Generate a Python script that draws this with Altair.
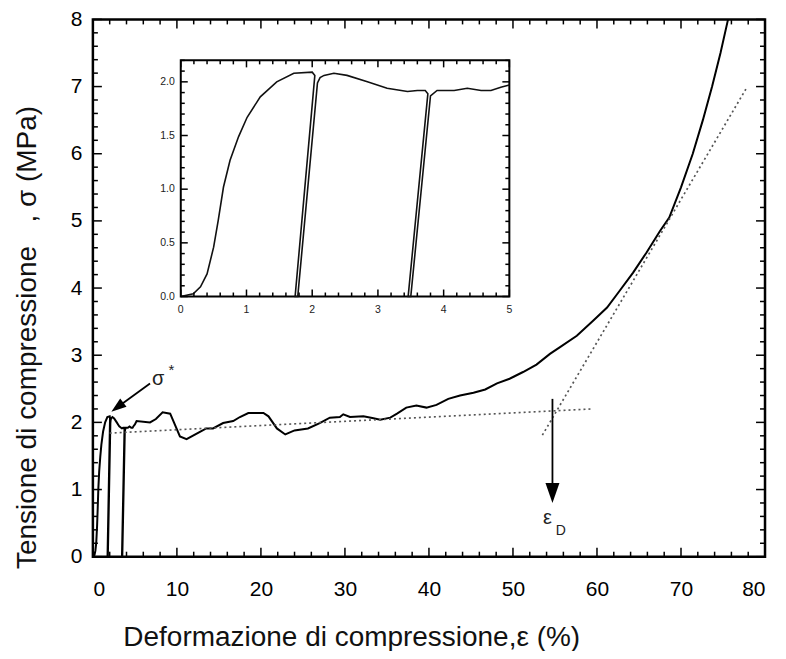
import altair as alt
import pandas as pd

# ---------------- data ----------------
# initial region (shown in inset and at the start of the main curve): strain %, stress MPa
inset_strain = [0, 0.19, 0.30, 0.40, 0.50, 0.57, 0.65, 0.75, 0.88, 1.01, 1.21, 1.46, 1.72, 2.00, 2.04,
                1.74, 1.78, 2.08, 2.12, 2.18, 2.33, 2.53, 2.84, 3.14, 3.45, 3.60, 3.72, 3.76,
                3.46, 3.50, 3.80, 3.90, 4.16, 4.36, 4.57, 4.72, 4.87, 5.00]
inset_stress = [0, 0.025, 0.09, 0.21, 0.46, 0.71, 1.02, 1.27, 1.49, 1.67, 1.86, 2.00, 2.08, 2.09, 2.06,
                0, 0, 1.99, 2.04, 2.06, 2.08, 2.06, 2.00, 1.94, 1.91, 1.92, 1.92, 1.89,
                0, 0, 1.87, 1.92, 1.92, 1.94, 1.92, 1.92, 1.95, 1.97]

# rest of the main curve
main_strain_rest = [5.2, 6.8, 7.5, 8.3, 9.2, 10.36, 11.15, 12.74, 13.5, 14.3, 15.5, 16.7, 17.5, 18.5, 20.3,
                    20.9, 21.9, 22.9, 24.0, 25.6, 27.0, 28.2, 29.4, 29.8, 30.6, 32.2, 33.4, 34.2, 35.4, 36.2,
                    37.3, 38.5, 39.7, 40.9, 42.3, 43.7, 45.3, 46.7, 48.1, 49.6, 51.2, 52.8, 54.4, 55.6, 57.6,
                    59.6, 61.2, 62.7, 64.3, 65.9, 67.5, 68.6, 70.0, 71.4, 72.6, 73.7, 74.7, 75.6]
main_stress_rest = [2.02, 2.00, 2.05, 2.15, 2.13, 1.79, 1.75, 1.86, 1.91, 1.91, 1.99, 2.02, 2.08, 2.14, 2.14,
                    2.09, 1.91, 1.82, 1.88, 1.91, 1.99, 2.07, 2.08, 2.12, 2.08, 2.09, 2.06, 2.04, 2.07, 2.13,
                    2.22, 2.25, 2.22, 2.26, 2.35, 2.40, 2.44, 2.49, 2.58, 2.65, 2.75, 2.86, 3.02, 3.12, 3.29,
                    3.52, 3.71, 3.96, 4.23, 4.53, 4.85, 5.05, 5.50, 6.00, 6.50, 7.00, 7.50, 8.00]

# dotted fit lines
fit_x = [2.0, 59.4, 53.5, 77.9]
fit_y = [1.84, 2.20, 1.81, 7.00]
fit_g = ["plateau", "plateau", "densification", "densification"]

# arrows
arrow_x = [6.8, 54.7]
arrow_y = [2.58, 2.35]
arrow_x2 = [3.2, 54.7]
arrow_y2 = [2.25, 1.0]
head_x = [2.2, 54.7]
head_y = [2.16, 0.80]
head_angle = [233, 180]
head_size = [225, 400]

# annotations
ann_x = [7.76, 9.35, 54.1, 55.7]
ann_y = [2.64, 2.78, 0.575, 0.38]
ann_text = ["σ", "*", "ε", "D"]
ann_size = [20, 15, 20, 14]

# axes
X_DOMAIN = [0, 80]
Y_DOMAIN = [0, 8]
x_labels = [0, 10, 20, 30, 40, 50, 60, 70, 80]
y_labels = [0, 1, 2, 3, 4, 5, 6, 7, 8]
x_minor = [v for v in range(0, 81, 2) if v % 10 != 0]
y_minor = [round(v * 0.2, 1) for v in range(0, 41) if v % 5 != 0]

INSET_X_DOMAIN = [0, 5]
INSET_Y_DOMAIN = [0, 2.2]
inset_x_labels = [0, 1, 2, 3, 4, 5]
inset_y_labels = [0.0, 0.5, 1.0, 1.5, 2.0]
inset_x_minor = [round(v * 0.2, 1) for v in range(0, 26) if v % 5 != 0]
inset_y_minor = [round(v * 0.1, 1) for v in range(0, 23) if v % 5 != 0]

# ---------------- layout ----------------
W, H = 673, 538
FONT = "Liberation Sans"
ARROW_PATH = "M0,0L0.7,2L-0.7,2Z"
# where the inset box sits, expressed in the main chart's axis units
IX0, IX1 = 10.46, 49.57
IY0, IY1 = 3.874, 7.39
SX = (IX1 - IX0) / (INSET_X_DOMAIN[1] - INSET_X_DOMAIN[0])
SY = (IY1 - IY0) / (INSET_Y_DOMAIN[1] - INSET_Y_DOMAIN[0])


def to_main_x(f):
    return f"{IX0} + (datum['{f}'] - {INSET_X_DOMAIN[0]}) * {SX}"


def to_main_y(f):
    return f"{IY0} + (datum['{f}'] - {INSET_Y_DOMAIN[0]}) * {SY}"


def xs():
    return alt.Scale(domain=X_DOMAIN, nice=False, zero=False)


def ys():
    return alt.Scale(domain=Y_DOMAIN, nice=False, zero=False)


# the same axis definitions are given to every layer so the shared axes merge cleanly
def AX():
    return alt.Axis(values=x_labels, title="Deformazione di compressione,ε (%)",
                    grid=False, ticks=False, tickSize=0, domain=False,
                    labelFont=FONT, labelFontSize=21, labelColor="black", labelPadding=22,
                    titleFont=FONT, titleFontSize=28, titleFontWeight="normal", titleColor="#111",
                    titleAlign="left", titleBaseline="alphabetic", titleX=30, titleY=89,
                    titleAnchor="start")


def AY():
    return alt.Axis(values=y_labels,
                    title="Tensione di compressione\u00a0\u00a0\u00a0, σ (MPa)",
                    grid=False, ticks=False, tickSize=0, domain=False,
                    labelFont=FONT, labelFontSize=21, labelColor="black", labelPadding=11,
                    titleFont=FONT, titleFontSize=28, titleFontWeight="normal", titleColor="#111",
                    titleAngle=270, titleAlign="center", titleBaseline="alphabetic",
                    titleX=-57, titleY=318)


def X(f):
    return alt.X(f, scale=xs(), axis=AX())


def Y(f):
    return alt.Y(f, scale=ys(), axis=AY())


def hticks(vals, at, length, inset=False):
    df = pd.DataFrame({"v": vals, "at": [at] * len(vals)})
    base = alt.Chart(df)
    xf = "v"
    if inset:
        base = base.transform_calculate(mx=to_main_x("v"))
        xf = "mx"
    return base.mark_rule(color="black", strokeWidth=1.5, y2Offset=length).encode(
        x=X(f"{xf}:Q"), y=Y("at:Q"), y2=alt.Y2("at:Q"),
    )


def vticks(vals, at, length, inset=False):
    df = pd.DataFrame({"v": vals, "at": [at] * len(vals)})
    base = alt.Chart(df)
    yf = "v"
    if inset:
        base = base.transform_calculate(my=to_main_y("v"))
        yf = "my"
    return base.mark_rule(color="black", strokeWidth=1.5, x2Offset=length).encode(
        y=Y(f"{yf}:Q"), x=X("at:Q"), x2=alt.X2("at:Q"),
    )


main_df = pd.DataFrame({"strain": inset_strain + main_strain_rest,
                        "stress": inset_stress + main_stress_rest})
main_df["i"] = range(len(main_df))

curve = alt.Chart(main_df).mark_line(color="black", strokeWidth=2, clip=True).encode(
    x=X("strain:Q"), y=Y("stress:Q"), order="i:Q",
)

fit_df = pd.DataFrame({"x": fit_x, "y": fit_y, "g": fit_g})
fits = alt.Chart(fit_df).mark_line(color="#555", strokeWidth=1.7, strokeDash=[2, 3]).encode(
    x=X("x:Q"), y=Y("y:Q"), detail="g:N",
)

arr_df = pd.DataFrame({"x": arrow_x, "y": arrow_y, "x2": arrow_x2, "y2": arrow_y2})
arrows = alt.Chart(arr_df).mark_rule(color="black", strokeWidth=1.8).encode(
    x=X("x:Q"), y=Y("y:Q"), x2="x2:Q", y2="y2:Q",
)

head_df = pd.DataFrame({"x": head_x, "y": head_y, "a": head_angle, "s": head_size})
heads = alt.Chart(head_df).mark_point(shape=ARROW_PATH, filled=True, color="black",
                                      opacity=1, strokeWidth=0).encode(
    x=X("x:Q"), y=Y("y:Q"),
    angle=alt.Angle("a:Q", scale=None), size=alt.Size("s:Q", scale=None, legend=None),
)

ann_df = pd.DataFrame({"x": ann_x, "y": ann_y, "t": ann_text, "s": ann_size})
anns = alt.Chart(ann_df).mark_text(font=FONT, color="#222", baseline="middle", align="center").encode(
    x=X("x:Q"), y=Y("y:Q"), text="t:N", size=alt.Size("s:Q", scale=None, legend=None),
)

# inward ticks on all four sides of the main frame
main_ticks = [
    hticks(x_labels, Y_DOMAIN[0], -9), hticks(x_minor, Y_DOMAIN[0], -5),
    hticks(x_labels, Y_DOMAIN[1], 9), hticks(x_minor, Y_DOMAIN[1], 5),
    vticks(y_labels, X_DOMAIN[0], 9), vticks(y_minor, X_DOMAIN[0], 5),
    vticks(y_labels, X_DOMAIN[1], -9), vticks(y_minor, X_DOMAIN[1], -5),
]

# ---------------- inset ----------------
frame_df = pd.DataFrame({"x0": [INSET_X_DOMAIN[0]], "x1": [INSET_X_DOMAIN[1]],
                         "y0": [INSET_Y_DOMAIN[0]], "y1": [INSET_Y_DOMAIN[1]]})
frame = alt.Chart(frame_df).transform_calculate(
    mx0=to_main_x("x0"), mx1=to_main_x("x1"), my0=to_main_y("y0"), my1=to_main_y("y1")
).mark_rect(fill="white", stroke="black", strokeWidth=2).encode(
    x=X("mx0:Q"), x2="mx1:Q", y=Y("my0:Q"), y2="my1:Q",
)

inset_df = pd.DataFrame({"strain": inset_strain, "stress": inset_stress})
inset_df["i"] = range(len(inset_df))
inset_curve = alt.Chart(inset_df).transform_calculate(
    mx=to_main_x("strain"), my=to_main_y("stress")
).mark_line(color="#111", strokeWidth=1.6).encode(
    x=X("mx:Q"), y=Y("my:Q"), order="i:Q",
)

inset_ticks = [
    hticks(inset_x_labels, IY0, -7, True), hticks(inset_x_minor, IY0, -4, True),
    hticks(inset_x_labels, IY1, 7, True), hticks(inset_x_minor, IY1, 4, True),
    vticks(inset_y_labels, IX0, 7, True), vticks(inset_y_minor, IX0, 4, True),
    vticks(inset_y_labels, IX1, -7, True), vticks(inset_y_minor, IX1, -4, True),
]

ixl_df = pd.DataFrame({"v": inset_x_labels, "t": [str(v) for v in inset_x_labels],
                       "at": [IY0] * len(inset_x_labels)})
inset_xl = alt.Chart(ixl_df).transform_calculate(mx=to_main_x("v")).mark_text(
    font=FONT, fontSize=10.5, color="#222", baseline="middle", align="center", dy=14).encode(
    x=X("mx:Q"), y=Y("at:Q"), text="t:N",
)
iyl_df = pd.DataFrame({"v": inset_y_labels, "t": [f"{v:.1f}" for v in inset_y_labels],
                       "at": [IX0] * len(inset_y_labels)})
inset_yl = alt.Chart(iyl_df).transform_calculate(my=to_main_y("v")).mark_text(
    font=FONT, fontSize=10.5, color="#222", baseline="middle", align="right", dx=-6).encode(
    y=Y("my:Q"), x=X("at:Q"), text="t:N",
)

layers = [curve, fits, arrows, heads, anns, *main_ticks,
          frame, inset_curve, *inset_ticks, inset_xl, inset_yl]

chart = alt.layer(*layers).properties(
    width=W, height=H,
    autosize=alt.AutoSizeParams(type="none"),
    padding={"left": 85, "top": 11, "right": 13, "bottom": 94},
).configure_view(stroke="black", strokeWidth=2.5)

chart.save("out.html", embed_options={"renderer": "svg", "actions": False})
